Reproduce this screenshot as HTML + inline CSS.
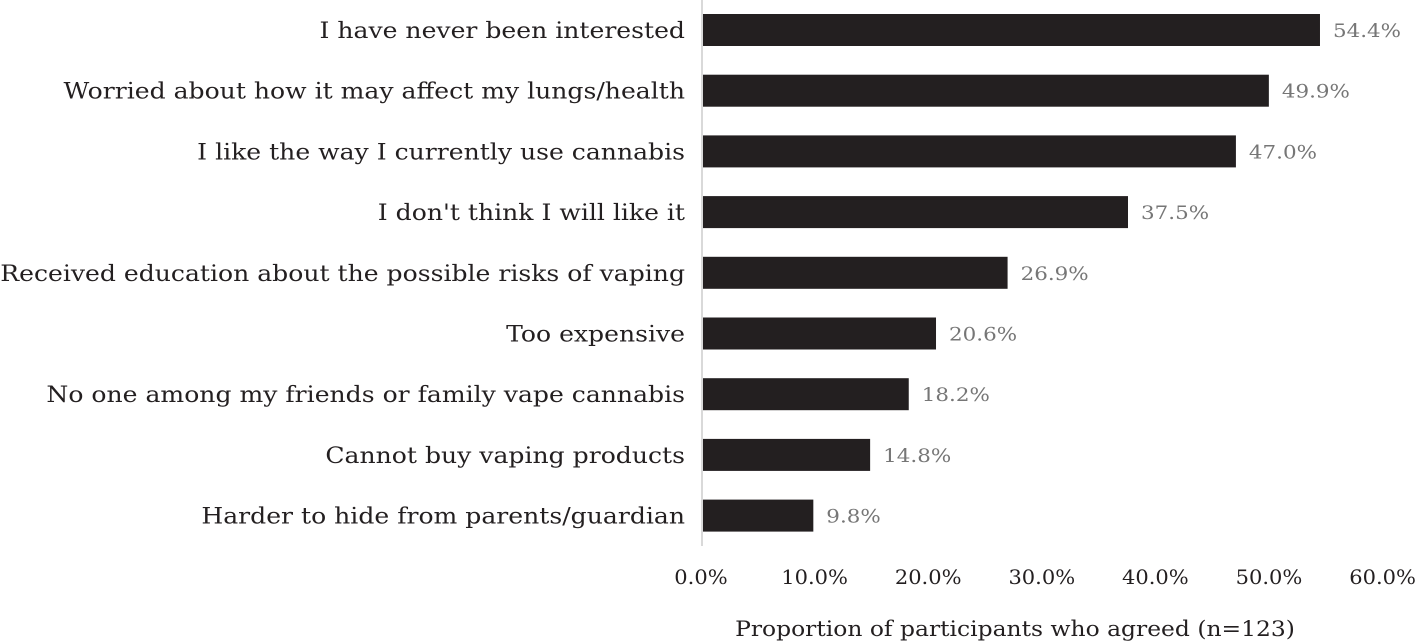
<!DOCTYPE html>
<html><head><meta charset="utf-8"><style>
html,body{margin:0;padding:0;background:#fff;}
svg{display:block;font-family:"DejaVu Serif","Liberation Serif",serif;}
</style></head><body>
<svg id="chart" width="1417" height="642" viewBox="0 0 1417 642" xmlns="http://www.w3.org/2000/svg">
<g id="bars"></g>
<line x1="702" y1="0" x2="702" y2="546" stroke="#d9d9d9" stroke-width="2"/>
<g id="ticks"></g>
<text id="xtitle" x="1015" y="636" text-anchor="middle" font-size="21" fill="#231f20">Proportion of participants who agreed (n=123)</text>
</svg>
<script>
const categories = ["I have never been interested","Worried about how it may affect my lungs/health","I like the way I currently use cannabis","I don't think I will like it","Received education about the possible risks of vaping","Too expensive","No one among my friends or family vape cannabis","Cannot buy vaping products","Harder to hide from parents/guardian"];
const values = [54.4,49.9,47.0,37.5,26.9,20.6,18.2,14.8,9.8];
const tickValues = [0,10,20,30,40,50,60];
const tickLabels = ["0.0%","10.0%","20.0%","30.0%","40.0%","50.0%","60.0%"];
const NS="http://www.w3.org/2000/svg";
const x0=702, pxPer=11.36, rowTop=0, rowH=60.7, barH=32;
function xs(v){return x0+v*pxPer;}
function yc(i){return rowTop+30+i*rowH;}
function stretch(el,f){const w=el.getComputedTextLength();el.setAttribute('textLength',w*f);el.setAttribute('lengthAdjust','spacingAndGlyphs');}
const bars=document.getElementById('bars');
categories.forEach((c,i)=>{
  const y=yc(i);
  const t=document.createElementNS(NS,'text');
  
  
  t.setAttribute('x',685);t.setAttribute('y',y+8);t.setAttribute('text-anchor','end');
  t.setAttribute('font-size','22');t.setAttribute('fill','#231f20');t.textContent=c;
  bars.appendChild(t);
  stretch(t,685/560*20.5/22);
  const r=document.createElementNS(NS,'rect');
  
  
  r.setAttribute('x',x0+1);r.setAttribute('y',y-barH/2);r.setAttribute('width',xs(values[i])-x0-1);r.setAttribute('height',barH);r.setAttribute('fill','#231f20');
  bars.appendChild(r);
  const v=document.createElementNS(NS,'text');
  
  
  v.setAttribute('x',xs(values[i])+13);v.setAttribute('y',y+7);
  v.setAttribute('font-size','19');v.setAttribute('fill','#767676');v.textContent=values[i].toFixed(1)+'%';
  bars.appendChild(v);
  stretch(v,1.19*18/19);
});
const ticks=document.getElementById('ticks');
tickValues.forEach((tv,i)=>{
  const t=document.createElementNS(NS,'text');
  
  
  t.setAttribute('x',xs(tv)-1);t.setAttribute('y',584);t.setAttribute('text-anchor','middle');
  t.setAttribute('font-size','20');t.setAttribute('fill','#231f20');t.textContent=tickLabels[i];
  ticks.appendChild(t);
  stretch(t,1.05);
});
stretch(document.getElementById('xtitle'),1.17*20/21);
</script>
</body></html>
